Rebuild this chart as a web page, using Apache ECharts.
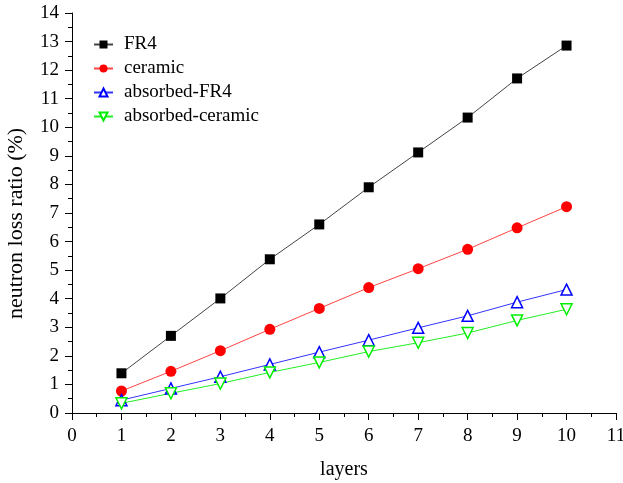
<!DOCTYPE html>
<html><head><meta charset="utf-8">
<script src="https://cdn.jsdelivr.net/npm/echarts@6/dist/echarts.min.js"></script>
<style>html,body{margin:0;padding:0;background:#fff}#c{width:623px;height:483px}</style>
</head><body><div id="c"></div>
<script>
const layers = [1,2,3,4,5,6,7,8,9,10];
const fr4 = [1.39,2.70,4.01,5.38,6.60,7.90,9.12,10.34,11.71,12.86];
const ceramic = [0.77,1.46,2.18,2.93,3.66,4.39,5.05,5.73,6.48,7.22];
const absorbedFR4 = [0.45,0.86,1.27,1.70,2.13,2.55,2.98,3.40,3.88,4.32];
const absorbedCeramic = [0.34,0.69,1.03,1.42,1.77,2.15,2.46,2.80,3.24,3.63];
const xTicks = {min:0,max:11,interval:1};
const yTicks = {min:0,max:14,interval:1};
const font = '"Liberation Serif", "Times New Roman", serif';
const pairs = v => layers.map((x,i)=>[x,v[i]]);
const chart = echarts.init(document.getElementById('c'));
const axisCommon = {
  axisLine:{show:true,lineStyle:{color:'#000',width:1}},
  axisTick:{show:true,inside:false,length:7,lineStyle:{color:'#000'}},
  minorTick:{show:true,splitNumber:2,length:4,lineStyle:{color:'#000'}},
  splitLine:{show:false}
};
chart.setOption({
  animation:false,
  grid:{left:72,right:7,top:13,bottom:70,containLabel:false,outerBoundsMode:'none'},
  legend:{
    orient:'vertical',left:88,top:30,padding:5,itemGap:5,itemWidth:19,itemHeight:10,
    textStyle:{fontFamily:font,fontSize:19,color:'#000',padding:[0,0,0,6]},
    data:['FR4','ceramic','absorbed-FR4','absorbed-ceramic']
  },
  xAxis:Object.assign({type:'value',min:xTicks.min,max:xTicks.max,interval:xTicks.interval,
    name:'layers',nameLocation:'middle',nameGap:47,
    nameTextStyle:{color:'#000',fontFamily:font,fontSize:20},
    axisLabel:{color:'#000',fontFamily:font,fontSize:19,margin:14}},axisCommon),
  yAxis:Object.assign({type:'value',min:yTicks.min,max:yTicks.max,interval:yTicks.interval,
    name:'neutron loss ratio (%)',nameLocation:'middle',nameGap:45,
    nameTextStyle:{color:'#000',fontFamily:font,fontSize:22,padding:[0,21,0,0]},
    axisLabel:{color:'#000',fontFamily:font,fontSize:19,margin:13}},axisCommon),
  series:[
    {name:'FR4',type:'line',data:pairs(fr4),symbol:'rect',symbolSize:10,
      lineStyle:{color:'#444',width:1},itemStyle:{color:'#000'}},
    {name:'ceramic',type:'line',data:pairs(ceramic),symbol:'circle',symbolSize:11,
      lineStyle:{color:'#f44',width:1},itemStyle:{color:'#f00'}},
    {name:'absorbed-FR4',type:'line',data:pairs(absorbedFR4),symbol:'triangle',symbolSize:11,
      lineStyle:{color:'#33f',width:1},itemStyle:{color:'#fff',borderColor:'#00f',borderWidth:1.5}},
    {name:'absorbed-ceramic',type:'line',data:pairs(absorbedCeramic),symbol:'triangle',symbolRotate:180,symbolSize:11,
      lineStyle:{color:'#2e2',width:1},itemStyle:{color:'#fff',borderColor:'#0e0',borderWidth:1.5}}
  ]
});
</script></body></html>
